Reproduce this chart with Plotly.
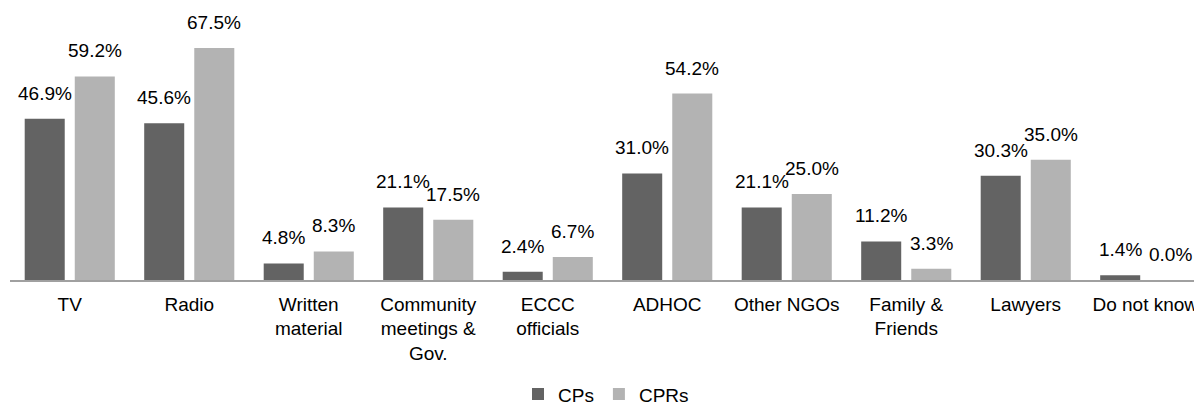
import plotly.graph_objects as go

categories = ["TV", "Radio", "Written<br>material", "Community<br>meetings &amp;<br>Gov.",
              "ECCC<br>officials", "ADHOC", "Other NGOs", "Family &amp;<br>Friends",
              "Lawyers", "Do not know"]
cps = [46.9, 45.6, 4.8, 21.1, 2.4, 31.0, 21.1, 11.2, 30.3, 1.4]
cprs = [59.2, 67.5, 8.3, 17.5, 6.7, 54.2, 25.0, 3.3, 35.0, 0.0]

DARK = "#636363"
LIGHT = "#b3b3b3"
FONT = "Liberation Sans, Arial, sans-serif"
FS = 19

W = 0.335
OFF_CP = -0.377
OFF_CPR = 0.042

xs = list(range(len(categories)))

fig = go.Figure()
fig.add_trace(go.Bar(x=xs, y=cps, name="CPs", marker_color=DARK, width=W, offset=OFF_CP,
                     marker_line_width=0))
fig.add_trace(go.Bar(x=xs, y=cprs, name="CPRs", marker_color=LIGHT, width=W, offset=OFF_CPR,
                     marker_line_width=0))

for i, v in enumerate(cps):
    fig.add_annotation(x=i + OFF_CP + W / 2, y=v, text=f"{v:.1f}%", showarrow=False,
                       yanchor="bottom", yshift=13, font=dict(family=FONT, size=FS, color="#000"))
for i, v in enumerate(cprs):
    fig.add_annotation(x=i + OFF_CPR + W / 2, y=v, text=f"{v:.1f}%", showarrow=False,
                       yanchor="bottom", yshift=13, font=dict(family=FONT, size=FS, color="#000"))

fig.update_layout(
    width=1194, height=401,
    margin=dict(l=2, r=0, t=0, b=129, autoexpand=False),
    plot_bgcolor="white", paper_bgcolor="white",
    barmode="overlay",
    font=dict(family=FONT, size=FS, color="#000"),
    showlegend=True,
    legend=dict(orientation="h", x=0.5, xanchor="center", y=-0.42, yanchor="middle",
                font=dict(family=FONT, size=FS, color="#000"),
                itemwidth=30, tracegroupgap=0),
)
fig.update_xaxes(
    range=[-0.5, 9.475], automargin=False,
    tickmode="array", tickvals=xs, ticktext=categories,
    showline=True, linecolor="#a0a0a0", linewidth=1.5,
    showgrid=False, zeroline=False,
    ticks="outside", ticklen=6, tickcolor="rgba(0,0,0,0)",
    tickfont=dict(family=FONT, size=FS, color="#000"),
)
fig.update_yaxes(range=[0, 79.1], visible=False, showgrid=False, zeroline=False)

fig.write_html("out.html")
